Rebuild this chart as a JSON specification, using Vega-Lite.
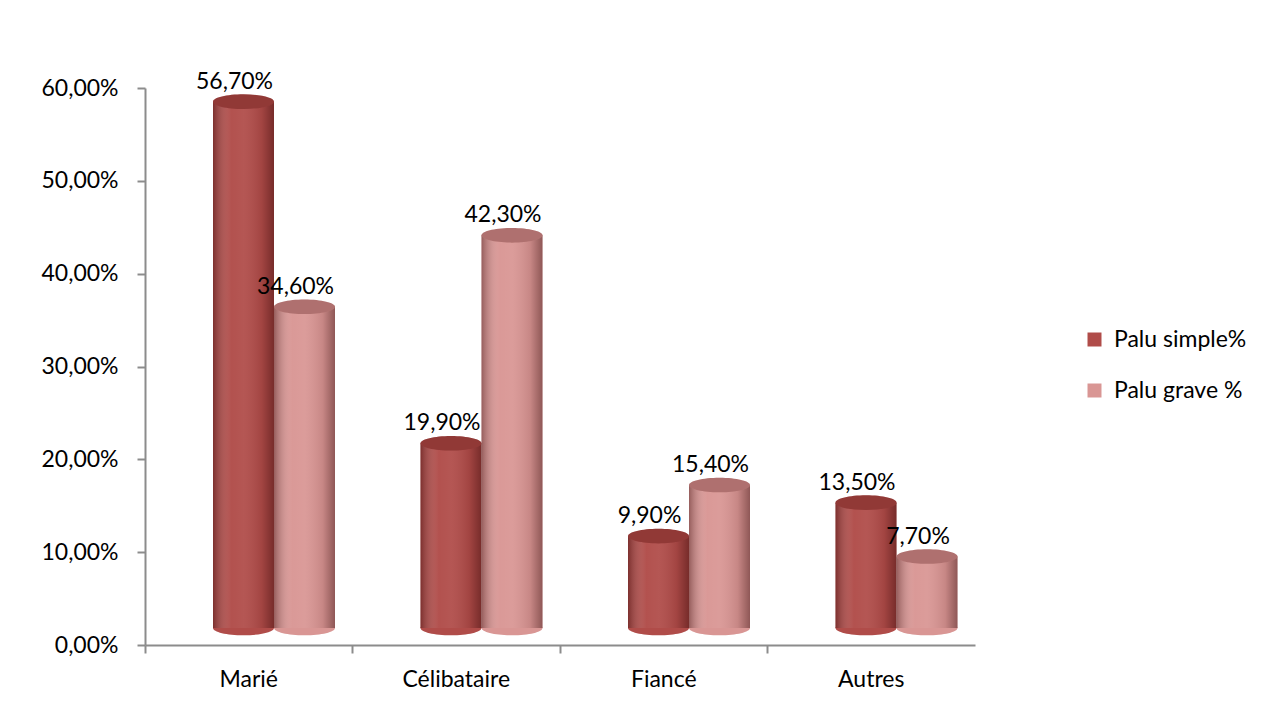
{
  "$schema": "https://vega.github.io/schema/vega-lite/v6.json",
  "width": 830,
  "height": 557,
  "autosize": {"type": "none"},
  "padding": {"left": 145, "top": 88, "right": 294, "bottom": 64},
  "background": "white",
  "config": {
    "locale": {"number": {"decimal": ",", "thousands": " ", "grouping": [3], "currency": ["", " €"]}},
    "font": "Lato",
    "view": {"stroke": null},
    "axis": {
      "labelFont": "Lato",
      "labelFontSize": 23,
      "labelColor": "#000000",
      "domainColor": "#8c8c8c",
      "domainWidth": 2,
      "tickColor": "#8c8c8c",
      "tickWidth": 2,
      "tickSize": 8,
      "grid": false,
      "title": null
    },
    "legend": {
      "labelFont": "Lato",
      "labelFontSize": 23,
      "labelColor": "#000000",
      "title": null,
      "orient": "none",
      "legendX": 938,
      "legendY": 240,
      "padding": 0,
      "symbolType": "square",
      "symbolSize": 196,
      "symbolStrokeWidth": 0,
      "labelOffset": 8,
      "rowPadding": 27
    }
  },
  "data": {
    "values": [
      {"statut": "Marié", "serie": "Palu simple%", "taux": 0.567},
      {"statut": "Marié", "serie": "Palu grave %", "taux": 0.346},
      {"statut": "Célibataire", "serie": "Palu simple%", "taux": 0.199},
      {"statut": "Célibataire", "serie": "Palu grave %", "taux": 0.423},
      {"statut": "Fiancé", "serie": "Palu simple%", "taux": 0.099},
      {"statut": "Fiancé", "serie": "Palu grave %", "taux": 0.154},
      {"statut": "Autres", "serie": "Palu simple%", "taux": 0.135},
      {"statut": "Autres", "serie": "Palu grave %", "taux": 0.077}
    ]
  },
  "encoding": {
    "x": {
      "field": "statut",
      "type": "nominal",
      "sort": ["Marié", "Célibataire", "Fiancé", "Autres"],
      "scale": {"paddingInner": 0, "paddingOuter": 0},
      "axis": {"labelAngle": 0, "bandPosition": 0, "labelPadding": 15, "labelAlign": "center"}
    },
    "xOffset": {
      "field": "serie",
      "type": "nominal",
      "sort": ["Palu simple%", "Palu grave %"],
      "scale": {"range": [68, 190], "paddingInner": 0, "paddingOuter": 0}
    },
    "y": {
      "field": "taux",
      "type": "quantitative",
      "scale": {"domain": [0, 0.6], "nice": false},
      "axis": {"values": [0, 0.1, 0.2, 0.3, 0.4, 0.5, 0.6], "format": ".2%", "labelPadding": 19}
    },
    "color": {
      "field": "serie",
      "type": "nominal",
      "sort": ["Palu simple%", "Palu grave %"],
      "scale": {"domain": ["Palu simple%", "Palu grave %"], "range": ["#b04c49", "#d99694"]}
    }
  },
  "layer": [
    {
      "description": "rounded base of each cylinder",
      "mark": {
        "type": "point",
        "filled": true,
        "opacity": 1,
        "shape": "M-1,0A1,0.24,0,1,0,1,0A1,0.24,0,1,0,-1,0Z",
        "size": 3721,
        "yOffset": -17
      },
      "encoding": {
        "y": {"datum": 0}
      }
    },
    {
      "mark": {"type": "bar", "yOffset": -17}
    },
    {
      "description": "cylinder shading",
      "mark": {
        "type": "bar",
        "yOffset": -17,
        "fill": {
          "gradient": "linear",
          "x1": 0, "y1": 0, "x2": 1, "y2": 0,
          "stops": [
            {"offset": 0, "color": "rgba(40,0,0,0.38)"},
            {"offset": 0.3, "color": "rgba(255,255,255,0.03)"},
            {"offset": 0.5, "color": "rgba(255,255,255,0.06)"},
            {"offset": 0.8, "color": "rgba(40,0,0,0.1)"},
            {"offset": 1, "color": "rgba(40,0,0,0.42)"}
          ]
        }
      },
      "encoding": {"color": {"value": null}}
    },
    {
      "description": "top face of each cylinder",
      "mark": {
        "type": "point",
        "filled": true,
        "opacity": 1,
        "shape": "M-1,0A1,0.24,0,1,0,1,0A1,0.24,0,1,0,-1,0Z",
        "size": 3721,
        "yOffset": -17
      }
    },
    {
      "mark": {
        "type": "point",
        "filled": true,
        "opacity": 1,
        "fill": "rgba(50,0,0,0.25)",
        "shape": "M-1,0A1,0.24,0,1,0,1,0A1,0.24,0,1,0,-1,0Z",
        "size": 3721,
        "yOffset": -17
      },
      "encoding": {"color": {"value": null}}
    },
    {
      "mark": {
        "type": "text",
        "font": "Lato",
        "fontSize": 23,
        "baseline": "alphabetic",
        "align": "center",
        "dx": -9,
        "dy": -30
      },
      "encoding": {
        "text": {"field": "taux", "type": "quantitative", "format": ".2%"},
        "color": {"value": "#000000"}
      }
    }
  ]
}
